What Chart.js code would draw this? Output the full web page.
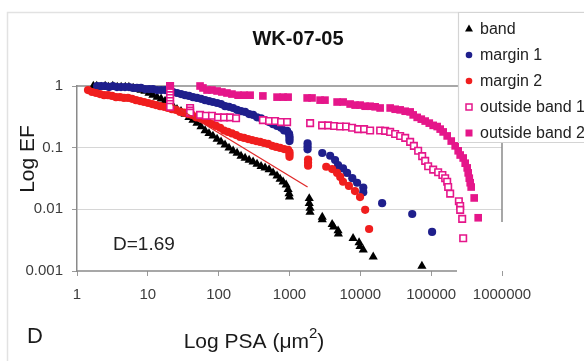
<!DOCTYPE html>
<html><head><meta charset="utf-8">
<script src="https://cdn.jsdelivr.net/npm/chart.js@4.4.1/dist/chart.umd.min.js"></script>
<style>html,body{margin:0;padding:0;background:#fff;}#wrap{width:584px;height:361px;position:relative;}</style>
</head><body><div id="wrap"><canvas id="c" width="584" height="361"></canvas></div>
<script>
// ---------- data ----------
const chartTitle = "WK-07-05";
const seriesNames = ["band", "margin 1", "margin 2", "outside band 1", "outside band 2"];
const xTickValues = [1, 10, 100, 1000, 10000, 100000, 1000000];
const xTickLabels = ["1", "10", "100", "1000", "10000", "100000", "1000000"];
const yTickValues = [0.001, 0.01, 0.1, 1];
const yTickLabels = ["0.001", "0.01", "0.1", "1"];

const bandX = [1.7,1.9,2.2,2.5,2.8,3.2,3.7,4.2,4.8,5.4,6.2,7.0,8.0,9.1,10.4,11.8,13.5,15.4,17.5,19.9,22.7,25.8,29.4,33.5,38.1,43.4,49.4,56.3,64.3,73,83,95,108,123,140,160,182,207,236,269,306,348,397,452,515,586,667,737,813,897,956,987,1000,
  1900,1900,1950,1950,2900,2900,4000,4200,4850,4900,7900,9600,9900,11000,15200,74000];
const bandY = [1,1,0.96,1,0.96,1,0.96,0.96,0.96,0.96,0.93,0.89,0.86,0.83,0.77,0.71,0.66,0.62,0.57,0.51,0.47,0.42,0.39,0.35,0.31,0.28,0.25,0.22,0.19,0.17,0.155,0.138,0.124,0.111,0.099,0.089,0.082,0.073,0.068,0.063,0.059,0.054,0.050,0.047,0.044,0.039,0.035,0.031,0.028,0.025,0.021,0.018,0.016,
  0.015,0.0125,0.0105,0.009,0.0075,0.0068,0.0057,0.0052,0.0045,0.0040,0.0034,0.0029,0.0025,0.0022,0.0017,0.0012];

const margin1X = [1.92,2.18,2.49,2.83,3.22,3.67,4.18,4.76,5.42,6.17,7.04,8.0,9.13,10.4,11.8,13.5,15.4,17.5,19.9,22.7,25.8,29.4,33.5,38.1,43.4,49.4,56.3,64.3,73,83,95,108,123,140,160,182,207,236,269,306,348,397,452,515,586,667,760,840,925,987,1000,1000,1000,
  1800,1800,1800,2900,3750,4400,4850,5700,6500,7700,9000,11000,11000,20300,54000,103000];
const margin1Y = [1,1,1,0.96,1,0.96,0.96,0.96,0.96,0.93,0.93,0.93,0.89,0.89,0.89,0.86,0.86,0.86,0.83,0.80,0.77,0.74,0.71,0.69,0.66,0.64,0.62,0.59,0.57,0.55,0.53,0.51,0.47,0.46,0.44,0.41,0.39,0.38,0.35,0.34,0.31,0.30,0.28,0.26,0.24,0.225,0.21,0.19,0.187,0.167,0.152,0.14,0.128,
  0.118,0.105,0.094,0.082,0.074,0.063,0.052,0.046,0.039,0.032,0.027,0.0225,0.019,0.0126,0.0084,0.0043];

const margin2X = [1.43,1.63,1.86,2.11,2.41,2.74,3.12,3.55,4.05,4.61,5.25,5.98,6.81,7.76,8.83,10.1,11.5,13.0,14.9,16.9,19.2,21.9,25.0,28.5,32.4,36.9,42.0,47.9,54.6,62.1,70.7,80.5,91.7,105,119,135,154,176,201,228,260,296,337,385,437,498,568,646,737,838,956,1000,1000,1000,
  1830,1830,1830,3300,4000,4700,5200,5700,6900,8400,9900,11700,13300];
const margin2Y = [0.86,0.80,0.77,0.74,0.71,0.71,0.69,0.66,0.66,0.64,0.64,0.62,0.59,0.57,0.55,0.53,0.51,0.49,0.47,0.46,0.44,0.42,0.41,0.38,0.37,0.35,0.34,0.31,0.30,0.28,0.26,0.24,0.225,0.21,0.19,0.18,0.17,0.16,0.149,0.144,0.138,0.133,0.128,0.124,0.119,0.115,0.107,0.103,0.099,0.095,0.092,0.085,0.078,0.071,
  0.064,0.057,0.051,0.049,0.045,0.039,0.0335,0.028,0.024,0.0198,0.0158,0.0098,0.0048];

const outside1X = [20.6,20.6,20.6,20.6,20.6,20.6,20.6,20.6, 39.5,39.5,39.5, 54.6,66,80.5,98,119,145,176, 421,515,626,760,925, 1955, 2885,3510,4270,5184,6290,7650, 9300,11300,13750,19040,
  22400,26370,31000,36500,43000,50500,57000,65500,74700,82300,90700,106700,125500,144000,157700,168300,173800,185500,246000,256800,256800,274100,283100];
const outside1Y = [1,0.89,0.80,0.71,0.64,0.57,0.51,0.46, 0.44,0.40,0.37, 0.34,0.33,0.33,0.31,0.31,0.31,0.30, 0.28,0.27,0.27,0.26,0.26, 0.25, 0.23,0.23,0.225,0.22,0.22,0.21, 0.20,0.20,0.19,0.19,
  0.187,0.18,0.167,0.155,0.144,0.124,0.107,0.089,0.073,0.061,0.050,0.044,0.040,0.036,0.032,0.028,0.023,0.018,0.0135,0.0113,0.0098,0.007,0.0034];

const outside2X = [20.6,54.6,60,68.5,80.5,95,111,131,154,188,228,278,421,667,813,956,1775,2080,2704,3170,4700,5717,7177,8446,9940,11690,13750,16180,19040,26370,31030,36500,42950,50520,55700,63500,72500,82300,94000,106700,121600,134000,147700,168300,192000,218300,240600,256800,283100,302200,322600,333200,345000,355600,367000,405000,461300];
const outside2Y = [1,1,0.93,0.86,0.86,0.83,0.80,0.77,0.74,0.71,0.71,0.71,0.69,0.66,0.66,0.66,0.64,0.64,0.59,0.59,0.55,0.55,0.51,0.49,0.49,0.47,0.47,0.46,0.44,0.44,0.42,0.41,0.39,0.38,0.34,0.31,0.29,0.27,0.25,0.23,0.22,0.20,0.18,0.155,0.128,0.107,0.089,0.076,0.068,0.056,0.047,0.039,0.032,0.027,0.023,0.0153,0.0073];

// fitted power-law line (D = 1.69)
const trendX = [22, 1800];
const trendY = [0.5, 0.023];
const annotationText = "D=1.69";
const panelLetter = "D";
const yAxisTitle = "Log EF";
const xAxisTitleMain = "Log PSA (\u03bcm";
const xAxisTitleSup = "2";
const xAxisTitleEnd = ")";

// ---------- styles ----------
const FONT = "'Liberation Sans', Arial, Helvetica, sans-serif";
const COL_BAND = "#000000";
const COL_M1 = "#1f1f8c";
const COL_M2 = "#f01e1e";
const COL_PINK = "#e5168a";

function pts(xs, ys) { return xs.map((x, i) => ({ x: x, y: ys[i] })); }

function drawMarker(ctx, kind, x, y) {
  ctx.save();
  if (kind === 0) {
    ctx.fillStyle = COL_BAND; ctx.beginPath();
    ctx.moveTo(x, y - 4.5); ctx.lineTo(x + 4, y + 2.5); ctx.lineTo(x - 4, y + 2.5); ctx.closePath(); ctx.fill();
  } else if (kind === 1 || kind === 2) {
    ctx.fillStyle = kind === 1 ? COL_M1 : COL_M2; ctx.beginPath(); ctx.arc(x, y, 3.3, 0, Math.PI * 2); ctx.fill();
  } else if (kind === 3) {
    ctx.strokeStyle = COL_PINK; ctx.lineWidth = 1.5; ctx.strokeRect(x - 3, y - 3, 6, 6);
  } else {
    ctx.fillStyle = COL_PINK; ctx.fillRect(x - 3.5, y - 3.5, 7, 7);
  }
  ctx.restore();
}

const decor = {
  id: 'decor',
  beforeDraw(chart) {
    const ctx = chart.ctx;
    ctx.save();
    ctx.fillStyle = '#fff'; ctx.fillRect(0, 0, chart.width, chart.height);
    ctx.strokeStyle = '#e2e2e2'; ctx.lineWidth = 1.5;
    ctx.beginPath(); ctx.moveTo(7.5, 361); ctx.lineTo(7.5, 12.5); ctx.lineTo(584, 12.5); ctx.stroke();
    ctx.restore();
  },
  beforeDatasetsDraw(chart) {
    const ctx = chart.ctx, a = chart.chartArea;
    ctx.save();
    ctx.strokeStyle = '#8a8a8a'; ctx.lineWidth = 1.5;
    ctx.beginPath(); ctx.moveTo(a.left, a.top); ctx.lineTo(458, a.top); ctx.stroke();
    ctx.beginPath(); ctx.moveTo(a.right, 142); ctx.lineTo(a.right, 222); ctx.stroke();
    ctx.beginPath(); ctx.moveTo(a.left, a.bottom); ctx.lineTo(457, a.bottom); ctx.stroke();
    ctx.restore();
  },
  afterDraw(chart) {
    const ctx = chart.ctx;
    ctx.save();
    // title
    ctx.fillStyle = '#111'; ctx.textAlign = 'center'; ctx.textBaseline = 'middle';
    ctx.font = 'bold 20px ' + FONT;
    ctx.fillText(chartTitle, 298, 39);
    // y title
    ctx.save(); ctx.translate(28, 159); ctx.rotate(-Math.PI / 2);
    ctx.font = '21px ' + FONT; ctx.fillStyle = '#1a1a1a';
    ctx.fillText(yAxisTitle, 0, 0); ctx.restore();
    // x title with superscript
    ctx.font = '21px ' + FONT; ctx.fillStyle = '#1a1a1a'; ctx.textAlign = 'left'; ctx.textBaseline = 'alphabetic';
    const w1 = ctx.measureText(xAxisTitleMain).width;
    ctx.font = '15px ' + FONT; const w2 = ctx.measureText(xAxisTitleSup).width;
    ctx.font = '21px ' + FONT; const w3 = ctx.measureText(xAxisTitleEnd).width;
    let sx = 254 - (w1 + w2 + w3) / 2; const base = 348;
    ctx.fillText(xAxisTitleMain, sx, base);
    ctx.font = '15px ' + FONT; ctx.fillText(xAxisTitleSup, sx + w1, base - 10);
    ctx.font = '21px ' + FONT; ctx.fillText(xAxisTitleEnd, sx + w1 + w2, base);
    // panel letter
    ctx.textAlign = 'center'; ctx.textBaseline = 'middle';
    ctx.font = '22px ' + FONT; ctx.fillText(panelLetter, 35, 337);
    // annotation
    ctx.textAlign = 'left'; ctx.font = '19px ' + FONT; ctx.fillStyle = '#222';
    ctx.fillText(annotationText, 113, 245);
    // legend
    ctx.fillStyle = '#fff'; ctx.fillRect(458, 12, 130, 130);
    ctx.strokeStyle = '#d4d4d4'; ctx.lineWidth = 1.2;
    ctx.beginPath(); ctx.moveTo(584, 142.5); ctx.lineTo(458.5, 142.5); ctx.lineTo(458.5, 12.5); ctx.lineTo(584, 12.5); ctx.stroke();
    ctx.font = '16px ' + FONT; ctx.fillStyle = '#222'; ctx.textBaseline = 'middle';
    seriesNames.forEach((name, i) => {
      const y = 29 + i * 26;
      drawMarker(ctx, i, 469, y);
      ctx.fillStyle = '#222'; ctx.fillText(name, 480, y + 1);
    });
    ctx.restore();
  }
};

const common = { showLine: false, clip: false, borderWidth: 0 };
const chart = new Chart(document.getElementById('c'), {
  type: 'scatter',
  data: {
    datasets: [
      Object.assign({}, common, { label: seriesNames[0], data: pts(bandX, bandY), pointStyle: 'triangle', pointRadius: 5.3, backgroundColor: COL_BAND, borderColor: COL_BAND, order: 5 }),
      Object.assign({}, common, { label: seriesNames[1], data: pts(margin1X, margin1Y), pointStyle: 'circle', pointRadius: 4.1, backgroundColor: COL_M1, borderColor: COL_M1, order: 4 }),
      Object.assign({}, common, { label: seriesNames[2], data: pts(margin2X, margin2Y), pointStyle: 'circle', pointRadius: 4.1, backgroundColor: COL_M2, borderColor: COL_M2, order: 3 }),
      Object.assign({}, common, { label: seriesNames[3], data: pts(outside1X, outside1Y), pointStyle: 'rect', pointRadius: 4.6, backgroundColor: '#ffffff', borderColor: COL_PINK, borderWidth: 1.6, order: 2 }),
      Object.assign({}, common, { label: seriesNames[4], data: pts(outside2X, outside2Y), pointStyle: 'rect', pointRadius: 5.4, backgroundColor: COL_PINK, borderColor: COL_PINK, order: 1 }),
      { type: 'line', label: 'fit', data: pts(trendX, trendY), borderColor: '#e02a2a', borderWidth: 1.3, pointRadius: 0, showLine: true, fill: false, order: 0 }
    ]
  },
  options: {
    responsive: false, animation: false, devicePixelRatio: 1, events: [],
    layout: { padding: { top: 86, right: 82, left: 0, bottom: 0 } },
    plugins: { legend: { display: false }, tooltip: { enabled: false }, title: { display: false } },
    scales: {
      x: {
        type: 'logarithmic', min: 1, max: 1000000, position: 'bottom',
        afterBuildTicks: (s) => { s.ticks = xTickValues.map(v => ({ value: v })); },
        afterFit: (s) => { s.height = 90; },
        ticks: { autoSkip: false, maxRotation: 0, padding: 10, color: '#3c3c3c', font: { family: FONT, size: 15 },
          callback: (v) => { const i = xTickValues.indexOf(v); return i >= 0 ? xTickLabels[i] : ''; } },
        grid: { drawOnChartArea: false, drawTicks: true, tickLength: 5, tickColor: '#9a9a9a', color: '#9a9a9a' },
        border: { display: false }
      },
      y: {
        type: 'logarithmic', min: 0.001, max: 1,
        afterBuildTicks: (s) => { s.ticks = yTickValues.map(v => ({ value: v })); },
        afterFit: (s) => { s.width = 77; },
        ticks: { autoSkip: false, padding: 9, color: '#3c3c3c', font: { family: FONT, size: 15 },
          callback: (v) => { const i = yTickValues.findIndex(t => Math.abs(t - v) / t < 1e-6); return i >= 0 ? yTickLabels[i] : ''; } },
        grid: { drawTicks: true, tickLength: 5, tickColor: '#9a9a9a',
          color: (c) => (c.tick && (Math.abs(c.tick.value - 0.1) < 1e-9 || Math.abs(c.tick.value - 0.01) < 1e-9)) ? '#d6d6d6' : 'rgba(0,0,0,0)' },
        border: { display: true, color: '#8a8a8a', width: 1.5 }
      }
    }
  },
  plugins: [decor]
});
</script>
</body></html>
